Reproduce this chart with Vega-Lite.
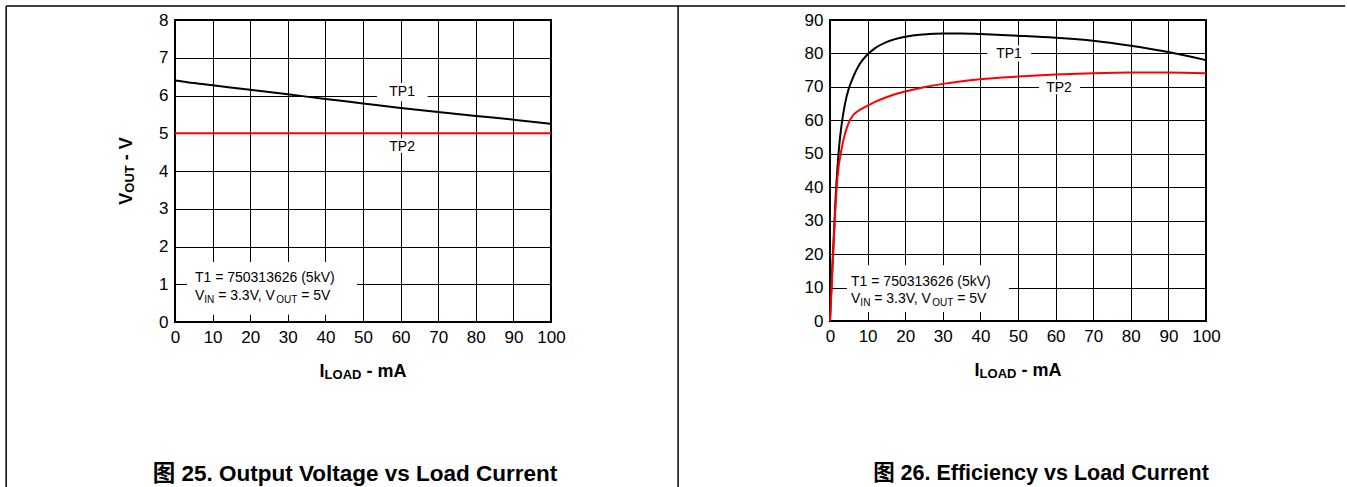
{
  "$schema": "https://vega.github.io/schema/vega-lite/v6.json",
  "padding": {"left": 4, "top": 4, "right": 0, "bottom": 0},
  "spacing": -5,
  "config": {
    "view": {"stroke": "black", "strokeWidth": 2},
    "axis": {"grid": true, "gridColor": "black", "gridOpacity": 1, "gridWidth": 1, "domain": false, "ticks": false, "labelFont": "Liberation Sans", "labelFontSize": 17, "labelColor": "black", "labelPadding": 7, "labelOverlap": false, "labelFlush": false, "labelBound": false},
    "text": {"font": "Liberation Sans", "color": "black"}
  },
  "hconcat": [
    {
      "width": 376, "height": 302,
      "encoding": {
        "x": {"field": "x", "type": "quantitative", "scale": {"domain": [0, 100], "nice": false, "zero": false}, "axis": {"values": [0,10,20,30,40,50,60,70,80,90,100], "title": null}},
        "y": {"field": "y", "type": "quantitative", "scale": {"domain": [0, 8], "nice": false, "zero": false}, "axis": {"values": [0,1,2,3,4,5,6,7,8], "title": null}}
      },
      "layer": [
        {"data": {"values": [{"x": -44.9, "x2": 133.8, "y": 8.37, "y2": 8.37}, {"x": -44.9, "x2": -44.9, "y": 8.37, "y2": -4.37}, {"x": 133.8, "x2": 133.8, "y": 8.37, "y2": -4.37}]},
         "mark": {"type": "rule", "strokeWidth": 1.5, "color": "black"}, "encoding": {"x2": {"field": "x2"}, "y2": {"field": "y2"}}},
        {"data": {"values": [{"x": 3.2, "x2": 48.4, "y": 0.19, "y2": 1.59}, {"x": 53.7, "x2": 67.2, "y": 5.85, "y2": 6.33}, {"x": 56.5, "x2": 64.5, "y": 4.48, "y2": 4.87}]},
         "mark": {"type": "rect", "color": "white"}, "encoding": {"x2": {"field": "x2"}, "y2": {"field": "y2"}}},
        {"data": {"values": [
          {"s": "TP1", "x": 0, "y": 6.40}, {"s": "TP1", "x": 5, "y": 6.33}, {"s": "TP1", "x": 10, "y": 6.27}, {"s": "TP1", "x": 20, "y": 6.15}, {"s": "TP1", "x": 30, "y": 6.03}, {"s": "TP1", "x": 40, "y": 5.91}, {"s": "TP1", "x": 50, "y": 5.79}, {"s": "TP1", "x": 60, "y": 5.67}, {"s": "TP1", "x": 70, "y": 5.56}, {"s": "TP1", "x": 80, "y": 5.46}, {"s": "TP1", "x": 90, "y": 5.36}, {"s": "TP1", "x": 100, "y": 5.25},
          {"s": "TP2", "x": 0, "y": 5.0}, {"s": "TP2", "x": 100, "y": 5.0}
        ]},
         "mark": {"type": "line", "strokeWidth": 2, "interpolate": "monotone"},
         "encoding": {"color": {"field": "s", "type": "nominal", "scale": {"domain": ["TP1", "TP2"], "range": ["black", "#ff0000"]}, "legend": null}}},
        {"data": {"values": [{"x": 60.4, "y": 6.09, "t": "TP1"}, {"x": 60.4, "y": 4.64, "t": "TP2"}]},
         "mark": {"type": "text", "fontSize": 14, "baseline": "middle", "align": "center"}, "encoding": {"text": {"field": "t"}}},
        {"data": {"values": [{"x": 5.3, "y": 1.17, "t": "T1 = 750313626 (5kV)"}]},
         "mark": {"type": "text", "fontSize": 14, "baseline": "middle", "align": "left"}, "encoding": {"text": {"field": "t"}}},
        {"data": {"values": [{"x": 5.3, "y": 0.70, "t": "V"}]}, "mark": {"type": "text", "fontSize": 14, "baseline": "middle", "align": "left", "dx": 0}, "encoding": {"text": {"field": "t"}}},
        {"data": {"values": [{"x": 5.3, "y": 0.70, "t": "IN"}]}, "mark": {"type": "text", "fontSize": 10, "baseline": "middle", "align": "left", "dx": 9.3, "dy": 4}, "encoding": {"text": {"field": "t"}}},
        {"data": {"values": [{"x": 5.3, "y": 0.70, "t": "= 3.3V, V"}]}, "mark": {"type": "text", "fontSize": 14, "baseline": "middle", "align": "left", "dx": 23.2}, "encoding": {"text": {"field": "t"}}},
        {"data": {"values": [{"x": 5.3, "y": 0.70, "t": "OUT"}]}, "mark": {"type": "text", "fontSize": 10, "baseline": "middle", "align": "left", "dx": 81.2, "dy": 4}, "encoding": {"text": {"field": "t"}}},
        {"data": {"values": [{"x": 5.3, "y": 0.70, "t": "= 5V"}]}, "mark": {"type": "text", "fontSize": 14, "baseline": "middle", "align": "left", "dx": 106.2}, "encoding": {"text": {"field": "t"}}},
        {"data": {"values": [{"x": 50, "y": 0, "t": "I"}]}, "mark": {"type": "text", "fontSize": 18, "fontWeight": "bold", "baseline": "alphabetic", "align": "left", "dx": -43.4, "dy": 55}, "encoding": {"text": {"field": "t"}}},
        {"data": {"values": [{"x": 50, "y": 0, "t": "LOAD"}]}, "mark": {"type": "text", "fontSize": 13, "fontWeight": "bold", "baseline": "alphabetic", "align": "left", "dx": -38.4, "dy": 57}, "encoding": {"text": {"field": "t"}}},
        {"data": {"values": [{"x": 50, "y": 0, "t": "- mA"}]}, "mark": {"type": "text", "fontSize": 18, "fontWeight": "bold", "baseline": "alphabetic", "align": "left", "dx": 3.4, "dy": 55}, "encoding": {"text": {"field": "t"}}},
        {"data": {"values": [{"x": 0, "y": 4, "t": "V"}]}, "mark": {"type": "text", "fontSize": 18, "fontWeight": "bold", "baseline": "alphabetic", "align": "left", "angle": 270, "dx": -33.7, "dy": -43}, "encoding": {"text": {"field": "t"}}},
        {"data": {"values": [{"x": 0, "y": 4, "t": "OUT"}]}, "mark": {"type": "text", "fontSize": 13, "fontWeight": "bold", "baseline": "alphabetic", "align": "left", "angle": 270, "dx": -21.7, "dy": -41}, "encoding": {"text": {"field": "t"}}},
        {"data": {"values": [{"x": 0, "y": 4, "t": "- V"}]}, "mark": {"type": "text", "fontSize": 18, "fontWeight": "bold", "baseline": "alphabetic", "align": "left", "angle": 270, "dx": 10.7, "dy": -43}, "encoding": {"text": {"field": "t"}}},
        {"data": {"values": [{"x": 50, "y": 0, "t": "图 25. Output Voltage vs Load Current"}]}, "mark": {"type": "text", "font": "Liberation Sans, Noto Sans CJK SC", "fontSize": 22.5, "fontWeight": "bold", "baseline": "middle", "align": "center", "dx": -8, "dy": 152}, "encoding": {"text": {"field": "t"}}}
      ]
    },
    {
      "width": 376, "height": 301,
      "encoding": {
        "x": {"field": "x", "type": "quantitative", "scale": {"domain": [0, 100], "nice": false, "zero": false}, "axis": {"values": [0,10,20,30,40,50,60,70,80,90,100], "title": null}},
        "y": {"field": "y", "type": "quantitative", "scale": {"domain": [0, 90], "nice": false, "zero": false}, "axis": {"values": [0,10,20,30,40,50,60,70,80,90], "title": null}}
      },
      "layer": [
        {"data": {"values": [{"x": -40.5, "x2": 137.0, "y": 94.19, "y2": 94.19}]},
         "mark": {"type": "rule", "strokeWidth": 1.5, "color": "black"}, "encoding": {"x2": {"field": "x2"}, "y2": {"field": "y2"}}},
        {"data": {"values": [{"x": 4.5, "x2": 47.6, "y": 2.7, "y2": 16.7}, {"x": 41.8, "x2": 53.5, "y": 77.6, "y2": 82.4}, {"x": 55.6, "x2": 66.5, "y": 67.8, "y2": 72.2}]},
         "mark": {"type": "rect", "color": "white"}, "encoding": {"x2": {"field": "x2"}, "y2": {"field": "y2"}}},
        {"data": {"values": [
          {"s": "TP1", "x": 0, "y": 0}, {"s": "TP1", "x": 0.5, "y": 13}, {"s": "TP1", "x": 1, "y": 25}, {"s": "TP1", "x": 1.5, "y": 37}, {"s": "TP1", "x": 2, "y": 46}, {"s": "TP1", "x": 2.5, "y": 53}, {"s": "TP1", "x": 3, "y": 58}, {"s": "TP1", "x": 4, "y": 65}, {"s": "TP1", "x": 5, "y": 69.5}, {"s": "TP1", "x": 6, "y": 72.5}, {"s": "TP1", "x": 7, "y": 75}, {"s": "TP1", "x": 8, "y": 77}, {"s": "TP1", "x": 10, "y": 79.7}, {"s": "TP1", "x": 12, "y": 81.6}, {"s": "TP1", "x": 15, "y": 83.4}, {"s": "TP1", "x": 20, "y": 85}, {"s": "TP1", "x": 25, "y": 85.7}, {"s": "TP1", "x": 30, "y": 86}, {"s": "TP1", "x": 35, "y": 86}, {"s": "TP1", "x": 40, "y": 85.8}, {"s": "TP1", "x": 50, "y": 85.3}, {"s": "TP1", "x": 60, "y": 84.7}, {"s": "TP1", "x": 70, "y": 83.8}, {"s": "TP1", "x": 80, "y": 82.3}, {"s": "TP1", "x": 90, "y": 80.4}, {"s": "TP1", "x": 100, "y": 78},
          {"s": "TP2", "x": 0, "y": 0}, {"s": "TP2", "x": 0.5, "y": 12}, {"s": "TP2", "x": 1, "y": 24}, {"s": "TP2", "x": 1.5, "y": 35}, {"s": "TP2", "x": 2, "y": 43}, {"s": "TP2", "x": 3, "y": 51}, {"s": "TP2", "x": 4, "y": 56}, {"s": "TP2", "x": 5, "y": 59.3}, {"s": "TP2", "x": 6, "y": 61.3}, {"s": "TP2", "x": 7, "y": 62.4}, {"s": "TP2", "x": 8, "y": 63.2}, {"s": "TP2", "x": 10, "y": 64.4}, {"s": "TP2", "x": 12, "y": 65.5}, {"s": "TP2", "x": 15, "y": 66.9}, {"s": "TP2", "x": 20, "y": 68.6}, {"s": "TP2", "x": 25, "y": 69.9}, {"s": "TP2", "x": 30, "y": 70.9}, {"s": "TP2", "x": 40, "y": 72.3}, {"s": "TP2", "x": 50, "y": 73.1}, {"s": "TP2", "x": 60, "y": 73.7}, {"s": "TP2", "x": 70, "y": 74.1}, {"s": "TP2", "x": 80, "y": 74.3}, {"s": "TP2", "x": 90, "y": 74.3}, {"s": "TP2", "x": 100, "y": 74.1}
        ]},
         "mark": {"type": "line", "strokeWidth": 2, "interpolate": "monotone"},
         "encoding": {"color": {"field": "s", "type": "nominal", "scale": {"domain": ["TP1", "TP2"], "range": ["black", "#ff0000"]}, "legend": null}}},
        {"data": {"values": [{"x": 47.6, "y": 79.8, "t": "TP1"}, {"x": 60.9, "y": 69.7, "t": "TP2"}]},
         "mark": {"type": "text", "fontSize": 14, "baseline": "middle", "align": "center"}, "encoding": {"text": {"field": "t"}}},
        {"data": {"values": [{"x": 5.6, "y": 11.7, "t": "T1 = 750313626 (5kV)"}]},
         "mark": {"type": "text", "fontSize": 14, "baseline": "middle", "align": "left"}, "encoding": {"text": {"field": "t"}}},
        {"data": {"values": [{"x": 5.6, "y": 6.6, "t": "V"}]}, "mark": {"type": "text", "fontSize": 14, "baseline": "middle", "align": "left", "dx": 0}, "encoding": {"text": {"field": "t"}}},
        {"data": {"values": [{"x": 5.6, "y": 6.6, "t": "IN"}]}, "mark": {"type": "text", "fontSize": 10, "baseline": "middle", "align": "left", "dx": 9.3, "dy": 4}, "encoding": {"text": {"field": "t"}}},
        {"data": {"values": [{"x": 5.6, "y": 6.6, "t": "= 3.3V, V"}]}, "mark": {"type": "text", "fontSize": 14, "baseline": "middle", "align": "left", "dx": 23.2}, "encoding": {"text": {"field": "t"}}},
        {"data": {"values": [{"x": 5.6, "y": 6.6, "t": "OUT"}]}, "mark": {"type": "text", "fontSize": 10, "baseline": "middle", "align": "left", "dx": 81.2, "dy": 4}, "encoding": {"text": {"field": "t"}}},
        {"data": {"values": [{"x": 5.6, "y": 6.6, "t": "= 5V"}]}, "mark": {"type": "text", "fontSize": 14, "baseline": "middle", "align": "left", "dx": 106.2}, "encoding": {"text": {"field": "t"}}},
        {"data": {"values": [{"x": 50, "y": 0, "t": "I"}]}, "mark": {"type": "text", "fontSize": 18, "fontWeight": "bold", "baseline": "alphabetic", "align": "left", "dx": -43.4, "dy": 55}, "encoding": {"text": {"field": "t"}}},
        {"data": {"values": [{"x": 50, "y": 0, "t": "LOAD"}]}, "mark": {"type": "text", "fontSize": 13, "fontWeight": "bold", "baseline": "alphabetic", "align": "left", "dx": -38.4, "dy": 57}, "encoding": {"text": {"field": "t"}}},
        {"data": {"values": [{"x": 50, "y": 0, "t": "- mA"}]}, "mark": {"type": "text", "fontSize": 18, "fontWeight": "bold", "baseline": "alphabetic", "align": "left", "dx": 3.4, "dy": 55}, "encoding": {"text": {"field": "t"}}},
        {"data": {"values": [{"x": 50, "y": 0, "t": "图 26. Efficiency vs Load Current"}]}, "mark": {"type": "text", "font": "Liberation Sans, Noto Sans CJK SC", "fontSize": 21.5, "fontWeight": "bold", "baseline": "middle", "align": "center", "dx": 23, "dy": 153}, "encoding": {"text": {"field": "t"}}}
      ]
    }
  ]
}
